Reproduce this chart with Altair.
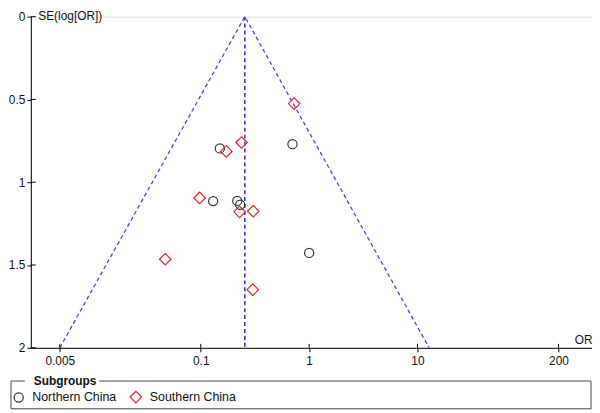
import altair as alt
import pandas as pd

# ---- data ----
groups = ["Northern China", "Southern China"]
north_or = [0.150, 0.702, 0.130, 0.217, 0.231, 1.0]
north_se = [0.796, 0.770, 1.114, 1.113, 1.136, 1.427]
south_or = [0.172, 0.238, 0.727, 0.0975, 0.228, 0.305, 0.047, 0.302]
south_se = [0.814, 0.760, 0.525, 1.095, 1.179, 1.175, 1.465, 1.649]

pooled_or = 0.255
funnel_or = [0.005, 0.255, 12.8]
funnel_se = [2.0, 0.0, 2.0]

x_ticks = [0.005, 0.1, 1, 10, 200]
y_ticks = [0, 0.5, 1, 1.5, 2]
x_domain = [0.0027, 408]
y_domain = [0, 2]

FONT = "Liberation Sans"

pts = pd.DataFrame({
    "or": north_or + south_or,
    "se": north_se + south_se,
    "group": [groups[0]] * len(north_or) + [groups[1]] * len(south_or),
})
funnel = pd.DataFrame({"or": funnel_or, "se": funnel_se, "idx": list(range(len(funnel_or)))})
pooled = pd.DataFrame({"or": [pooled_or], "se": [0.0], "se2": [2.0]})
xt = pd.DataFrame({"or": x_ticks})
yt = pd.DataFrame({"se": y_ticks})
one = pd.DataFrame({"a": [0]})

W, H = 566, 334

xscale = alt.Scale(type="log", domain=x_domain, nice=False)
yscale = alt.Scale(domain=y_domain, reverse=True, nice=False)

xaxis = alt.Axis(values=x_ticks, format="~g", title="OR", titleX=W, titleY=-4,
                 titleAlign="right", titleBaseline="alphabetic", titleFontWeight="normal",
                 titleFont=FONT, titleFontSize=12, titleColor="#111",
                 grid=False, tickSize=4, labelPadding=4, domainColor="#000", tickColor="#000",
                 labelFont=FONT, labelFontSize=12, labelColor="#111",
                 labelFlush=False, labelOverlap=False)
yaxis = alt.Axis(values=y_ticks, format="~g", title="SE(log[OR])", titleAngle=0, titleX=7,
                 titleY=3, titleAlign="left", titleBaseline="alphabetic",
                 titleFontWeight="normal", titleFont=FONT, titleFontSize=12, titleColor="#111",
                 grid=False, tickSize=4, labelPadding=2, domainColor="#000", tickColor="#000",
                 labelFont=FONT, labelFontSize=12, labelColor="#111",
                 labelFlush=False, labelOverlap=False)

leg = alt.Legend(title=None, orient="none", legendX=-18.5, legendY=377, direction="horizontal",
                 labelFont=FONT, labelFontSize=12.5, labelColor="#111", labelOffset=7.5,
                 columnPadding=11, padding=0, symbolStrokeWidth=1.2)

points = alt.Chart(pts).mark_point(filled=False, strokeWidth=1.2, opacity=1).encode(
    x=alt.X("or:Q", scale=xscale, axis=xaxis),
    y=alt.Y("se:Q", scale=yscale, axis=yaxis),
    shape=alt.Shape("group:N", scale=alt.Scale(domain=groups, range=["circle", "diamond"]), legend=leg),
    color=alt.Color("group:N", scale=alt.Scale(domain=groups, range=["#333333", "#e0282a"]), legend=leg),
    size=alt.Size("group:N", scale=alt.Scale(domain=groups, range=[85, 135]), legend=leg),
)

funnel_line = alt.Chart(funnel).mark_line(strokeDash=[4, 3], color="#4444f0", strokeWidth=1.3).encode(
    x=alt.X("or:Q", scale=xscale),
    y=alt.Y("se:Q", scale=yscale),
    order="idx:Q",
)

vline = alt.Chart(pooled).mark_rule(strokeDash=[4, 3], color="#2828d8", strokeWidth=1.5).encode(
    x=alt.X("or:Q", scale=xscale),
    y=alt.Y("se:Q", scale=yscale),
    y2="se2:Q",
)

xin = alt.Chart(xt).mark_rule(color="#000").encode(
    x=alt.X("or:Q", scale=xscale), y=alt.value(H), y2=alt.value(H - 4))
yin = alt.Chart(yt).mark_rule(color="#000").encode(
    y=alt.Y("se:Q", scale=yscale), x=alt.value(0), x2=alt.value(5))

# legend frame (with a gap for the title)
bc = "#444444"
L, R, T, B = -20, 565, 367.5, 395.5
frame = [
    alt.Chart(one).mark_rule(color=bc).encode(x=alt.value(L), x2=alt.value(-6), y=alt.value(T)),
    alt.Chart(one).mark_rule(color=bc).encode(x=alt.value(69), x2=alt.value(R), y=alt.value(T)),
    alt.Chart(one).mark_rule(color=bc).encode(x=alt.value(L), x2=alt.value(R), y=alt.value(B)),
    alt.Chart(one).mark_rule(color=bc).encode(x=alt.value(L), y=alt.value(T), y2=alt.value(B)),
    alt.Chart(one).mark_rule(color=bc).encode(x=alt.value(R), y=alt.value(T), y2=alt.value(B)),
]
leg_title = alt.Chart(one).mark_text(align="left", baseline="middle", font=FONT, fontSize=12,
                                     fontWeight="bold", color="#111").encode(
    x=alt.value(3), y=alt.value(367), text=alt.value("Subgroups"))

chart = alt.layer(funnel_line, vline, xin, yin, *frame, leg_title, points).properties(
    width=W, height=H, autosize=alt.AutoSizeParams(type="none"),
    padding={"left": 23, "top": 7, "right": 0, "bottom": 62},
).configure_view(stroke=None).configure(background="white")

chart.save("out.html", embed_options={"renderer": "svg", "actions": False})
